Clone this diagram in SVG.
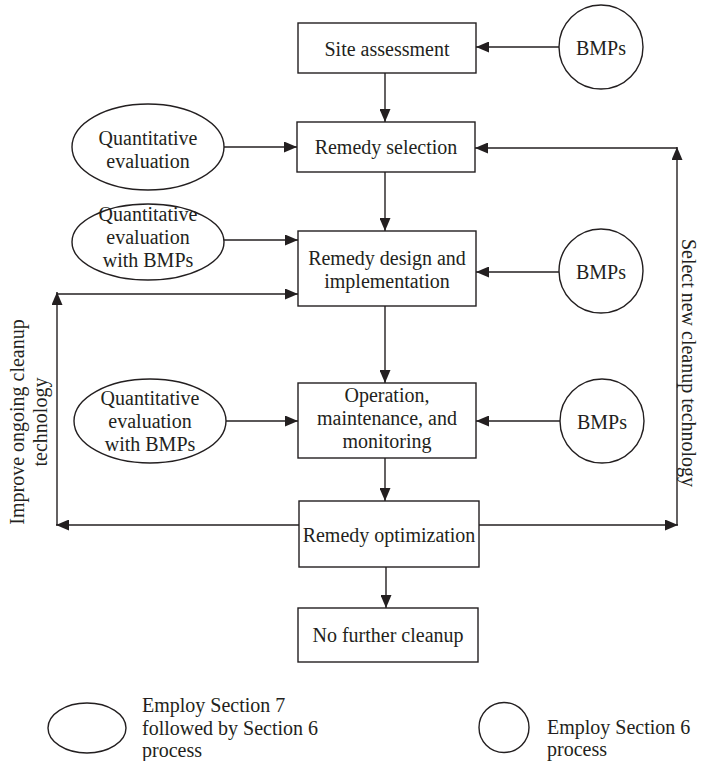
<svg xmlns="http://www.w3.org/2000/svg" width="701" height="761" viewBox="0 0 701 761">
<style>
.n{fill:#fff;stroke:#231f20;stroke-width:1.4}
.t{font-family:"Liberation Serif","Times New Roman",serif;font-size:20px;fill:#231f20;text-anchor:middle}
.l{font-family:"Liberation Serif","Times New Roman",serif;font-size:20px;fill:#231f20}
.c{fill:none;stroke:#231f20;stroke-width:1.4}
.a{marker-end:url(#ah)}
</style>
<defs>
<marker id="ah" markerUnits="userSpaceOnUse" markerWidth="13" markerHeight="11" refX="13" refY="5.5" orient="auto">
<path d="M0,0 L13,5.5 L0,11 z" fill="#231f20"/>
</marker>
</defs>
<rect width="701" height="761" fill="#fff"/>
<g id="connectors">
<line class="c a" x1="559" y1="47" x2="476" y2="47"/>
<line class="c a" x1="385" y1="73" x2="385" y2="122"/>
<line class="c a" x1="224" y1="147" x2="297" y2="147"/>
<line class="c a" x1="677" y1="148" x2="475" y2="148"/>
<line class="c a" x1="385" y1="172" x2="385" y2="231"/>
<line class="c a" x1="224" y1="240" x2="298" y2="240"/>
<line class="c a" x1="559" y1="272" x2="476" y2="272"/>
<line class="c a" x1="57" y1="294" x2="298" y2="294"/>
<line class="c a" x1="385" y1="306" x2="385" y2="383"/>
<line class="c a" x1="226" y1="421" x2="298" y2="421"/>
<line class="c a" x1="560" y1="421" x2="476" y2="421"/>
<line class="c a" x1="385" y1="458" x2="385" y2="501"/>
<line class="c a" x1="299" y1="525" x2="56" y2="525"/>
<line class="c a" x1="57" y1="525" x2="57" y2="292"/>
<line class="c a" x1="479" y1="525" x2="678" y2="525"/>
<line class="c a" x1="677" y1="525" x2="677" y2="147"/>
<line class="c a" x1="386" y1="567" x2="386" y2="608"/>
</g>
<g id="site">
<rect class="n" x="298" y="23" width="178" height="50"/>
<text class="t" x="387" y="56">Site assessment</text>
</g>
<g id="bmps1">
<circle class="n" cx="601" cy="47" r="42"/>
<text class="t" x="601" y="55">BMPs</text>
</g>
<g id="selection">
<rect class="n" x="297" y="122" width="178" height="50"/>
<text class="t" x="386" y="154">Remedy selection</text>
</g>
<g id="qe1">
<ellipse class="n" cx="148" cy="147" rx="76" ry="43"/>
<text class="t" x="148" y="145">Quantitative</text>
<text class="t" x="148" y="168">evaluation</text>
</g>
<g id="design">
<rect class="n" x="298" y="231" width="178" height="75"/>
<text class="t" x="387" y="265">Remedy design and</text>
<text class="t" x="387" y="288">implementation</text>
</g>
<g id="qe2">
<ellipse class="n" cx="148" cy="242" rx="76" ry="38"/>
<text class="t" x="148" y="221">Quantitative</text>
<text class="t" x="148" y="244">evaluation</text>
<text class="t" x="148" y="267">with BMPs</text>
</g>
<g id="bmps2">
<circle class="n" cx="601" cy="271" r="42"/>
<text class="t" x="601" y="279">BMPs</text>
</g>
<g id="operation">
<rect class="n" x="298" y="383" width="178" height="75"/>
<text class="t" x="387" y="402">Operation,</text>
<text class="t" x="387" y="425">maintenance, and</text>
<text class="t" x="387" y="448">monitoring</text>
</g>
<g id="qe3">
<ellipse class="n" cx="150" cy="421" rx="76" ry="42"/>
<text class="t" x="150" y="405">Quantitative</text>
<text class="t" x="150" y="428">evaluation</text>
<text class="t" x="150" y="451">with BMPs</text>
</g>
<g id="bmps3">
<circle class="n" cx="602" cy="421" r="42"/>
<text class="t" x="602" y="429">BMPs</text>
</g>
<g id="optimization">
<rect class="n" x="299" y="501" width="180" height="66"/>
<text class="t" x="389" y="542">Remedy optimization</text>
</g>
<g id="nofurther">
<rect class="n" x="298" y="608" width="180" height="54"/>
<text class="t" x="388" y="642">No further cleanup</text>
</g>
<g id="label-improve">
<text class="t" transform="translate(24,422) rotate(-90)" x="0" y="0">Improve ongoing cleanup</text>
<text class="t" transform="translate(47,422) rotate(-90)" x="0" y="0">technology</text>
</g>
<g id="label-select">
<text class="t" transform="translate(682,363) rotate(90)" x="0" y="0">Select new cleanup technology</text>
</g>
<g id="legend-ellipse">
<ellipse class="n" cx="87" cy="728" rx="39" ry="25"/>
<text class="l" x="142" y="712">Employ Section 7</text>
<text class="l" x="142" y="735">followed by Section 6</text>
<text class="l" x="142" y="757">process</text>
</g>
<g id="legend-circle">
<circle class="n" cx="504" cy="727.5" r="25"/>
<text class="l" x="547" y="734">Employ Section 6</text>
<text class="l" x="547" y="756">process</text>
</g>
</svg>
